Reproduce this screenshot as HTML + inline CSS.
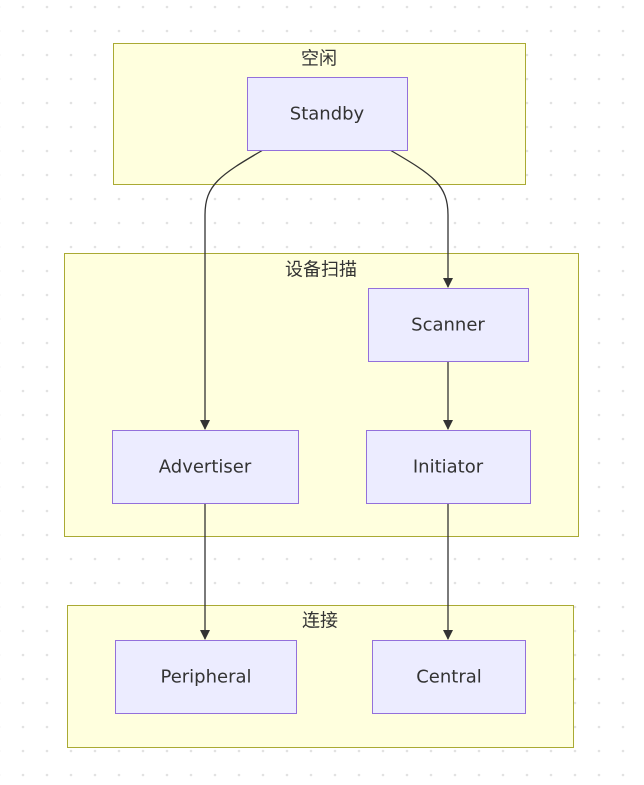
<!DOCTYPE html>
<html><head><meta charset="utf-8"><style>
body{margin:0;background:#fff;}
svg{display:block}
text{font-family:"DejaVu Sans","Liberation Sans","Noto Sans CJK SC",sans-serif;font-size:18px;fill:#333;text-anchor:middle;dominant-baseline:central}
.cl{fill:#ffffde;stroke:#aaaa33;stroke-width:1}
.nd{fill:#ececff;stroke:#9370db;stroke-width:1}
.e{fill:none;stroke:#333;stroke-width:1.3}
</style></head><body>
<svg width="644" height="785" viewBox="0 0 644 785">
<defs>
<pattern id="d" x="23" y="7" width="24" height="24" patternUnits="userSpaceOnUse"><circle cx="0" cy="0" r="1.3" fill="#e2e2e2"/><circle cx="24" cy="0" r="1.3" fill="#e2e2e2"/><circle cx="0" cy="24" r="1.3" fill="#e2e2e2"/><circle cx="24" cy="24" r="1.3" fill="#e2e2e2"/></pattern>
<marker id="a" markerWidth="10" markerHeight="10" refX="9" refY="5" orient="auto" markerUnits="userSpaceOnUse"><path d="M0,0L10,5L0,10z" fill="#333"/></marker>
</defs>
<rect width="644" height="785" fill="url(#d)"/>
<rect class="cl" x="113.5" y="43.5" width="412" height="141"/>
<text x="319" y="59">空闲</text>
<rect class="cl" x="64.5" y="253.5" width="514" height="283"/>
<text x="321" y="270">设备扫描</text>
<rect class="cl" x="67.5" y="605.5" width="506" height="142"/>
<text x="320" y="621">连接</text>
<path class="e" d="M263,150 C220,175 205,185 205,215 L205,429" marker-end="url(#a)"/>
<path class="e" d="M390,150 C433,175 448,185 448,215 L448,287" marker-end="url(#a)"/>
<path class="e" d="M448,361 L448,429" marker-end="url(#a)"/>
<path class="e" d="M205,503 L205,639" marker-end="url(#a)"/>
<path class="e" d="M448,503 L448,639" marker-end="url(#a)"/>
<rect class="nd" x="247.5" y="77.5" width="160" height="73"/><text x="327" y="114">Standby</text>
<rect class="nd" x="368.5" y="288.5" width="160" height="73"/><text x="448" y="325">Scanner</text>
<rect class="nd" x="112.5" y="430.5" width="186" height="73"/><text x="205" y="467">Advertiser</text>
<rect class="nd" x="366.5" y="430.5" width="164" height="73"/><text x="448" y="467">Initiator</text>
<rect class="nd" x="115.5" y="640.5" width="181" height="73"/><text x="206" y="677">Peripheral</text>
<rect class="nd" x="372.5" y="640.5" width="153" height="73"/><text x="449" y="677">Central</text>
</svg>
</body></html>
